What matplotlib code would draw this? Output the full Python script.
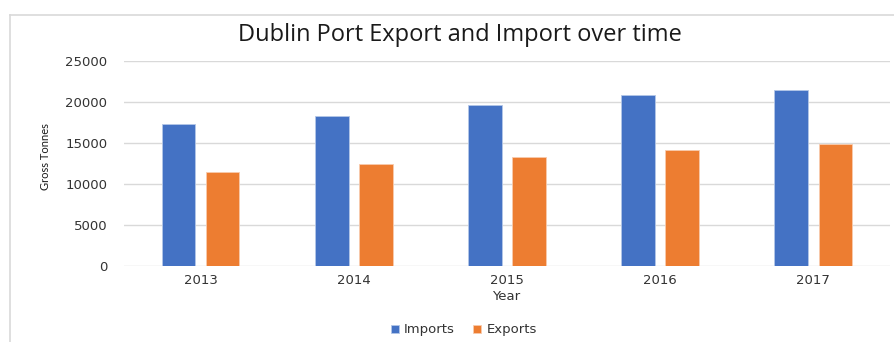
import matplotlib
matplotlib.use('Agg')
import matplotlib.pyplot as plt
import numpy as np
from matplotlib.lines import Line2D

years = ['2013', '2014', '2015', '2016', '2017']
imports = [17300, 18300, 19600, 20800, 21500]
exports = [11500, 12400, 13300, 14200, 14850]

plt.rcParams['font.family'] = ['Open Sans', 'DejaVu Sans']

fig = plt.figure(figsize=(8.95, 3.42), dpi=100)
ax = fig.add_axes([0.1385, 0.2222, 0.8559, 0.5994])

# chart frame: only the top and left edges show in the original crop
fx, fy = 10 / 895, 1 - 15 / 342
fig.add_artist(Line2D([fx, 1], [fy, fy], transform=fig.transFigure, color='#d9d9d9', lw=1.2))
fig.add_artist(Line2D([fx, fx], [0, fy], transform=fig.transFigure, color='#d9d9d9', lw=1.2))

x = np.arange(len(years))
w = 0.22
ax.bar(x - 0.144, imports, w, color='#4472C4', edgecolor='#b4c7e7', linewidth=0.6, label='Imports', zorder=3)
ax.bar(x + 0.144, exports, w, color='#ED7D31', edgecolor='#f8cbad', linewidth=0.6, label='Exports', zorder=3)

ax.set_xlim(-0.5, 4.5)
ax.set_ylim(0, 25000)
ax.set_yticks(range(0, 25001, 5000))
ax.set_xticks(x)
ax.set_xticklabels(years)
ax.grid(axis='y', color='#d9d9d9', linewidth=1, zorder=0)
for s in ax.spines.values():
    s.set_visible(False)
ax.tick_params(length=0, labelsize=9.5, labelcolor='#333333', pad=6)
for lab in ax.get_xticklabels() + ax.get_yticklabels():
    lab.set_family('DejaVu Sans')
ax.tick_params(axis='y', pad=12)

fig.text(460 / 895, 1 - 35 / 342, 'Dublin Port Export and Import over time',
         ha='center', va='center', fontsize=17, color='#1a1a1a')
fig.text(506 / 895, 1 - 297 / 342, 'Year', ha='center', va='center',
         fontsize=9.5, color='#333333', family='DejaVu Sans')
fig.text(46 / 895, 1 - 157 / 342, 'Gross Tonnes', ha='center', va='center',
         rotation=90, fontsize=8, color='#1a1a1a', family='Lato')

ax.legend(loc='center', bbox_to_anchor=(464 / 895, 1 - 330 / 342),
          bbox_transform=fig.transFigure, ncol=2, frameon=False,
          prop={'family': 'DejaVu Sans', 'size': 9.5},
          handlelength=0.6, handleheight=0.6,
          handletextpad=0.4, columnspacing=1.4, labelcolor='#333333')

fig.savefig('out.png', dpi=100, facecolor='white')
